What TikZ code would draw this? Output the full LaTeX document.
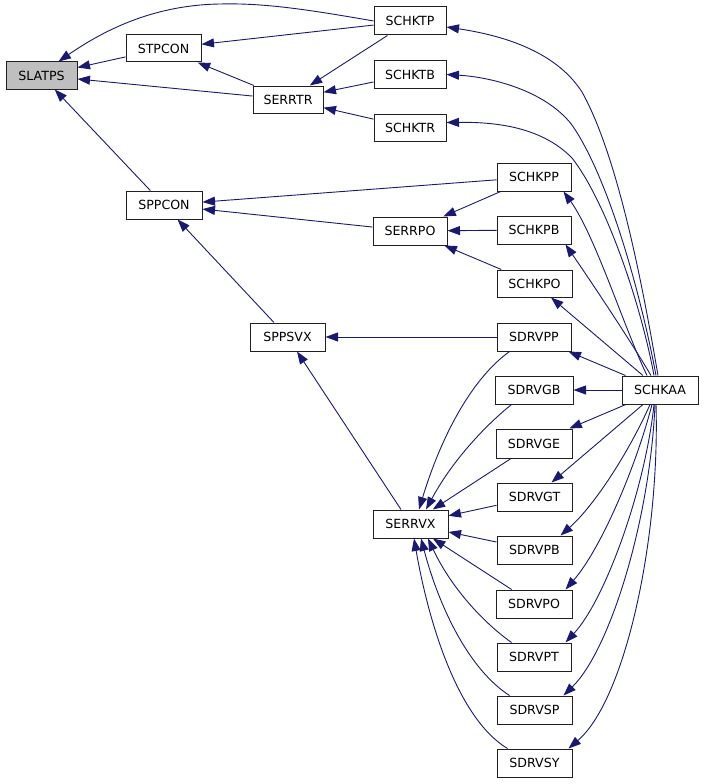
\documentclass[tikz,border=0pt]{standalone}
\usepackage{fontspec}
\setmainfont{DejaVu Sans}
\usetikzlibrary{arrows.meta}
\definecolor{edgecol}{HTML}{191970}
\definecolor{hilite}{HTML}{BFBFBF}
\definecolor{boxline}{HTML}{202020}
\begin{document}
\begin{tikzpicture}[x=1pt,y=-1pt,
  box/.style={draw=boxline,line width=1pt,inner sep=0pt,minimum height=28pt,
    font=\fontsize{12.6}{15}\selectfont,fill=white},
  edge/.style={draw=edgecol,line width=0.9pt,-{Triangle[length=12.5pt,width=9pt]}}]
\useasboundingbox (0,0) rectangle (704,784);
% nodes
\node[box,fill=hilite,minimum width=71pt,minimum height=27pt] (SLATPS) at (41.5,75.5) {SLATPS};
\node[box,minimum width=75pt,minimum height=27pt] (STPCON) at (163.5,48.5) {STPCON};
\node[box,minimum width=72pt] (SCHKTP) at (410,21) {SCHKTP};
\node[box,minimum width=70pt,minimum height=27pt] (SERRTR) at (288,99.5) {SERRTR};
\node[box,minimum width=72pt,minimum height=27pt] (SCHKTB) at (410,74.5) {SCHKTB};
\node[box,minimum width=72pt,minimum height=27pt] (SCHKTR) at (410,127.5) {SCHKTR};
\node[box,minimum width=76pt] (SPPCON) at (164,205) {SPPCON};
\node[box,minimum width=74pt] (SCHKPP) at (534,177) {SCHKPP};
\node[box,minimum width=74pt] (SERRPO) at (410,231) {SERRPO};
\node[box,minimum width=74pt] (SCHKPB) at (534,230) {SCHKPB};
\node[box,minimum width=75pt,minimum height=27pt] (SCHKPO) at (534.5,283.5) {SCHKPO};
\node[box,minimum width=75pt] (SPPSVX) at (287.5,337) {SPPSVX};
\node[box,minimum width=74pt] (SDRVPP) at (534,337) {SDRVPP};
\node[box,minimum width=78pt] (SDRVGB) at (534,390) {SDRVGB};
\node[box,minimum width=76pt] (SCHKAA) at (660,390) {SCHKAA};
\node[box,minimum width=76pt,minimum height=29pt] (SDRVGE) at (534,443.5) {SDRVGE};
\node[box,minimum width=75pt] (SERRVX) at (410.5,524) {SERRVX};
\node[box,minimum width=75pt] (SDRVGT) at (534.5,497) {SDRVGT};
\node[box,minimum width=75pt] (SDRVPB) at (534.5,550) {SDRVPB};
\node[box,minimum width=76pt] (SDRVPO) at (534,604) {SDRVPO};
\node[box,minimum width=74pt] (SDRVPT) at (534,657) {SDRVPT};
\node[box,minimum width=75pt] (SDRVSP) at (534.5,710) {SDRVSP};
\node[box,minimum width=75pt] (SDRVSY) at (534.5,763) {SDRVSY};
% straight edges
\draw[edge] (STPCON) -- (SLATPS);
\draw[edge] (SERRTR) -- (SLATPS);
\draw[edge] (SPPCON) -- (SLATPS);
\draw[edge] (SCHKTP) -- (STPCON);
\draw[edge] (SERRTR) -- (STPCON);
\draw[edge] (SCHKTP) -- (SERRTR);
\draw[edge] (SCHKTB) -- (SERRTR);
\draw[edge] (SCHKTR) -- (SERRTR);
\draw[edge] (SCHKPP) -- (SPPCON);
\draw[edge] (SERRPO) -- (SPPCON);
\draw[edge] (SCHKPP) -- (SERRPO);
\draw[edge] (SCHKPB) -- (SERRPO);
\draw[edge] (SCHKPO) -- (SERRPO);
\draw[edge] (SPPSVX) -- (SPPCON);
\draw[edge] (SDRVPP) -- (SPPSVX);
\draw[edge] (SERRVX) -- (SPPSVX);
\draw[edge] (SCHKAA) -- (SCHKPO);
\draw[edge] (SCHKAA) -- (SDRVPP);
\draw[edge] (SCHKAA) -- (SDRVGB);
\draw[edge] (SCHKAA) -- (SDRVGE);
\draw[edge] (SCHKAA) -- (SDRVGT);
\draw[edge] (SDRVGE) -- (SERRVX);
\draw[edge] (SDRVGT) -- (SERRVX);
\draw[edge] (SDRVPB) -- (SERRVX);
\draw[edge] (SDRVPO) -- (SERRVX);
% curved edges
\draw[edge] (SCHKTP.west) .. controls (300,8) and (260,3) .. (220,4)
  .. controls (150,5) and (100,33) .. ([xshift=17pt]SLATPS.north);
\draw[edge] ([xshift=-2pt]SCHKAA.north) .. controls (645,300) and (620,160) .. (582,92)
  .. controls (555,50) and (500,35) .. ([yshift=-6pt]SCHKTP.east);
\draw[edge] ([xshift=-4pt]SCHKAA.north) .. controls (642,300) and (610,180) .. (572,125)
  .. controls (545,90) and (490,77) .. (SCHKTB.east);
\draw[edge] ([xshift=-6pt]SCHKAA.north) .. controls (640,300) and (605,200) .. (572,158)
  .. controls (540,125) and (490,122) .. ([yshift=5pt]SCHKTR.east);
\draw[edge] ([xshift=-13pt]SCHKAA.north) .. controls (625,330) and (595,235) .. ([xshift=-8pt]SCHKPP.south east);
\draw[edge] ([xshift=-9pt]SCHKAA.north) .. controls (630,340) and (590,280) .. ([xshift=-6pt]SCHKPB.south east);
\draw[edge] ([xshift=-10pt]SCHKAA.south) .. controls (630,450) and (595,505) .. ([xshift=-12pt]SDRVPB.north east);
\draw[edge] ([xshift=-8pt]SCHKAA.south) .. controls (635,470) and (600,550) .. ([xshift=-7pt]SDRVPO.north east);
\draw[edge] ([xshift=-6pt]SCHKAA.south) .. controls (645,490) and (605,600) .. ([xshift=-6pt]SDRVPT.north east);
\draw[edge] ([xshift=-5pt]SCHKAA.south) .. controls (650,520) and (610,650) .. ([xshift=-9pt]SDRVSP.north east);
\draw[edge] ([xshift=-4pt]SCHKAA.south) .. controls (660,540) and (625,700) .. ([xshift=-4pt]SDRVSY.north east);
\draw[edge] ([xshift=13pt]SDRVPP.south west) .. controls (470,380) and (440,440) .. ([xshift=8.5pt]SERRVX.north);
\draw[edge] ([xshift=17pt]SDRVGB.south west) .. controls (480,430) and (450,465) .. ([xshift=15.5pt]SERRVX.north);
\draw[edge] ([xshift=15pt]SDRVPT.north west) .. controls (480,620) and (450,585) .. ([xshift=17.5pt]SERRVX.south);
\draw[edge] ([xshift=13pt]SDRVSP.north west) .. controls (470,670) and (440,610) .. ([xshift=10.5pt]SERRVX.south);
\draw[edge] ([xshift=11pt]SDRVSY.north west) .. controls (460,720) and (430,630) .. ([xshift=3.5pt]SERRVX.south);
\end{tikzpicture}
\end{document}
